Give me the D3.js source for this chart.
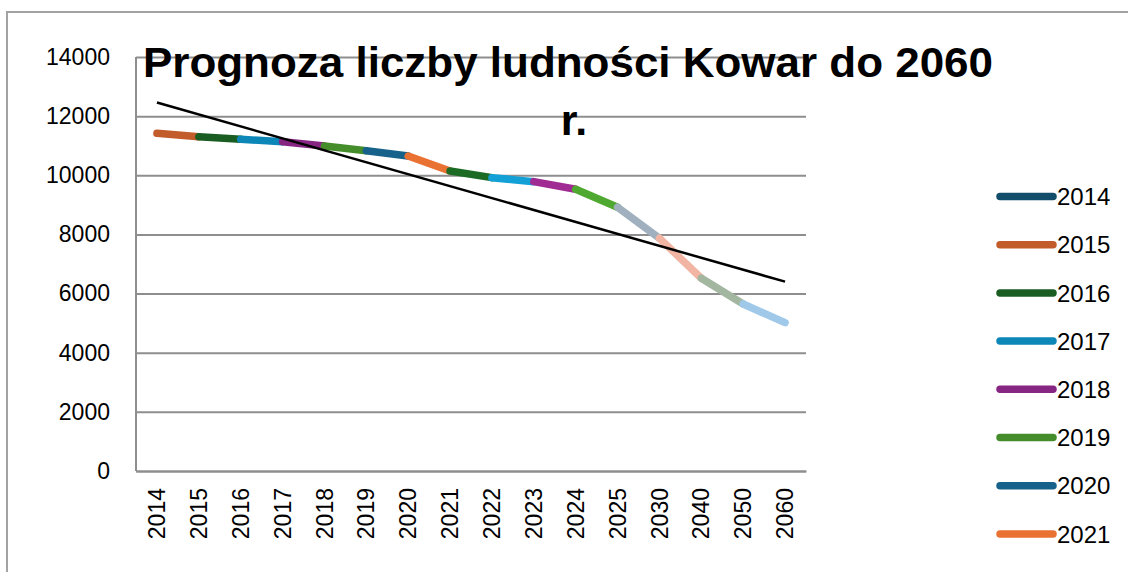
<!DOCTYPE html>
<html lang="pl">
<head>
<meta charset="utf-8" />
<title>Prognoza liczby ludności Kowar</title>
<style>
  body { margin: 0; background: #fff; }
  svg text { font-family: "Liberation Sans", Arial, sans-serif; }
</style>
</head>
<body>
<svg id="chart" width="1128" height="572"></svg>
<script src="https://cdn.jsdelivr.net/npm/d3@7"></script>
<script>
// lata i prognozowana liczba ludnosci
var years = ["2014","2015","2016","2017","2018","2019","2020","2021","2022","2023","2024","2025","2030","2040","2050","2060"];
var population = [11420, 11305, 11217, 11137, 10990, 10832, 10650, 10145, 9920, 9785, 9527, 8917, 7869, 6517, 5648, 5015];
// kolor kazdego punktu (odcinek konczacy sie w punkcie ma jego kolor)
var pointColors = ["#124e6b","#c25c2b","#1a5d23","#0d87b8","#872582","#458d2a","#16628a","#e97132",
                   "#1c6b25","#12a0d6","#a02b93","#4fa82f","#a0b0be","#f2b5a3","#a2b6a0","#a0c9e9"];
var yTicks = [0, 2000, 4000, 6000, 8000, 10000, 12000, 14000];
var legendYears = years.slice(0, 8);

var svg = d3.select("#chart");

// ramka wykresu
svg.append("rect")
  .attr("x", 7).attr("y", 12)
  .attr("width", 1140).attr("height", 600)
  .attr("fill", "none")
  .attr("stroke", "#a3a3a3")
  .attr("stroke-width", 2);

var x = d3.scaleBand().domain(years).range([136, 806]);
var y = d3.scaleLinear().domain([0, 14000]).range([471, 57]);
function cx(d) { return x(d) + x.bandwidth() / 2; }

// siatka
svg.append("g")
  .attr("transform", "translate(136,0)")
  .call(d3.axisLeft(y).tickValues(yTicks).tickSize(-670).tickFormat(""))
  .call(function(g) {
    g.select(".domain").remove();
    g.selectAll("line").attr("stroke", "#8e8e8e").attr("stroke-width", 2);
  });

// osie
svg.append("line")
  .attr("x1", 136).attr("x2", 136).attr("y1", y(14000)).attr("y2", y(0))
  .attr("stroke", "#8e8e8e").attr("stroke-width", 2);

svg.append("g")
  .attr("transform", "translate(110,0)")
  .call(d3.axisLeft(y).tickValues(yTicks).tickSize(0).tickPadding(0).tickFormat(d3.format("d")))
  .call(function(g) {
    g.select(".domain").remove();
    g.selectAll("text").attr("font-size", 23).attr("fill", "#000")
      .attr("font-family", "Liberation Sans, Arial, sans-serif");
  });

svg.append("g")
  .attr("transform", "translate(0,471)")
  .call(d3.axisBottom(x).tickSize(0).tickFormat(function(d) { return d; }))
  .call(function(g) {
    g.select(".domain").attr("stroke", "#8e8e8e").attr("stroke-width", 2);
    g.selectAll("text")
      .attr("font-size", 23).attr("fill", "#000")
      .attr("font-family", "Liberation Sans, Arial, sans-serif")
      .attr("transform", "rotate(-90)")
      .attr("text-anchor", "end")
      .attr("x", -17).attr("y", 0).attr("dy", "0.35em");
  });

// tytul
var title = svg.append("text")
  .attr("text-anchor", "middle")
  .attr("font-size", 43).attr("font-weight", "bold")
  .attr("font-family", "Liberation Sans Narrow, Liberation Sans, Arial, sans-serif");
title.append("tspan").attr("x", 568).attr("y", 77)
  .attr("textLength", 850).attr("lengthAdjust", "spacingAndGlyphs")
  .text("Prognoza liczby ludności Kowar do 2060");
title.append("tspan").attr("x", 574).attr("y", 135).text("r.");

// odcinki serii w roznych kolorach
var segs = d3.range(1, years.length);
svg.append("g").selectAll("line")
  .data(segs)
  .enter()
  .append("line")
  .attr("x1", function(i) { return cx(years[i - 1]); })
  .attr("y1", function(i) { return y(population[i - 1]); })
  .attr("x2", function(i) { return cx(years[i]); })
  .attr("y2", function(i) { return y(population[i]); })
  .attr("stroke", function(i) { return pointColors[i]; })
  .attr("stroke-width", 7.5)
  .attr("stroke-linecap", "round");

// linia trendu (regresja liniowa)
var n = population.length;
var mx = d3.mean(d3.range(n)), my = d3.mean(population);
var sxy = d3.sum(population, function(v, i) { return (i - mx) * (v - my); });
var sxx = d3.sum(d3.range(n), function(i) { return (i - mx) * (i - mx); });
var slope = sxy / sxx, icpt = my - slope * mx;
svg.append("line")
  .attr("x1", cx(years[0])).attr("y1", y(icpt))
  .attr("x2", cx(years[n - 1])).attr("y2", y(icpt + slope * (n - 1)))
  .attr("stroke", "#000").attr("stroke-width", 2.5);

// legenda
var leg = svg.append("g").selectAll("g")
  .data(legendYears)
  .enter()
  .append("g")
  .attr("transform", function(d, i) { return "translate(0," + (196.5 + i * 48.2) + ")"; });
leg.append("line")
  .attr("x1", 1000).attr("x2", 1053)
  .attr("stroke", function(d, i) { return pointColors[i]; })
  .attr("stroke-width", 7.5)
  .attr("stroke-linecap", "round");
leg.append("text")
  .attr("x", 1057).attr("dy", "0.36em")
  .attr("font-size", 24)
  .text(function(d) { return d; });
</script>
</body>
</html>
